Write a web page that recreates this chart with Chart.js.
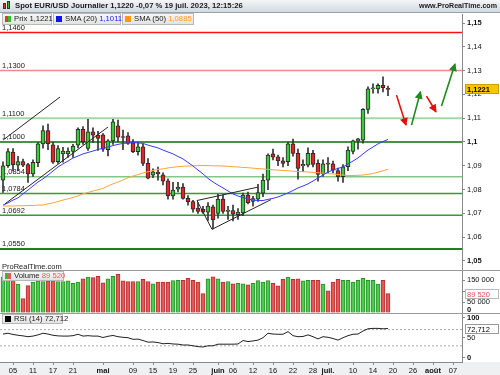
<!DOCTYPE html>
<html>
<head>
<meta charset="utf-8">
<script src="https://cdn.jsdelivr.net/npm/chart.js@4.4.1/dist/chart.umd.min.js"></script>
<style>
  body { margin:0; background:#fff; }
  #wrap { position:relative; width:500px; height:375px; overflow:hidden; font-family:"Liberation Sans", Arial, sans-serif; color:#1a1a1a; }
  canvas { position:absolute; left:0; }
  #xstrip { position:absolute; left:0; top:362px; width:500px; height:13px; background:#eef0f2; }
  #title { position:absolute; left:0; top:0; width:500px; height:13px; box-sizing:border-box; background:linear-gradient(#f4f6f8,#d2d9df); border-bottom:1px solid #9aa3ab; }
  #title .t { position:absolute; left:15px; top:1px; font-weight:bold; font-size:7.7px; line-height:10px; white-space:nowrap; }
  #title .w { position:absolute; right:3px; top:1px; font-weight:bold; font-size:7.1px; line-height:10px; white-space:nowrap; }
  #title b { position:absolute; width:3px; border:1px solid #333; box-sizing:border-box; }
  .lg { position:absolute; height:12px; box-sizing:border-box; border:1px solid #b8b8b8; background:linear-gradient(#f6f6f6,#e3e3e3); font-size:7.7px; line-height:10px; padding-left:11px; white-space:nowrap; }
  .lg i { position:absolute; left:2px; top:2px; width:6px; height:6px; }
  .sep { position:absolute; left:0; width:500px; height:1px; background:#9a9a9a; }
  #wm { position:absolute; left:2px; top:262px; font-size:7.5px; line-height:9px; }
</style>
</head>
<body>
<div id="wrap">
  <div id="xstrip"></div>
  <canvas id="cPrice" width="500" height="256" style="top:14px"></canvas>
  <canvas id="cVol" width="500" height="43" style="top:270px"></canvas>
  <canvas id="cRsi" width="500" height="62" style="top:313px"></canvas>
  <div class="sep" style="top:270px"></div>
  <div class="sep" style="top:313px"></div>
  <div id="title">
    <b style="left:3px;top:3px;height:6px;background:#e33"></b>
    <b style="left:7px;top:1px;height:8px;background:#3b3"></b>
    <span class="t">Spot EUR/USD Journalier 1,1220 -0,07 % 19 juil. 2023, 12:15:26</span>
    <span class="w">www.ProRealTime.com</span>
  </div>
  <div class="lg" style="left:2px;top:13px;width:50px"><i style="background:linear-gradient(90deg,#e33 50%,#3b3 50%)"></i>Prix 1,1221</div>
  <div class="lg" style="left:53px;top:13px;width:68px"><i style="background:#1010ff"></i>SMA (20) <span style="color:#2020ff">1,1011</span></div>
  <div class="lg" style="left:122px;top:13px;width:72px"><i style="background:#ff9a10"></i>SMA (50) <span style="color:#ff9a10">1,0885</span></div>
  <div id="wm">ProRealTime.com</div>
  <div class="lg" style="left:2px;top:271px;width:62px;height:10px;line-height:8px"><i style="top:1px;background:linear-gradient(90deg,#3b3 50%,#e55 50%)"></i>Volume <span style="color:#e06060">89 520</span></div>
  <div class="lg" style="left:2px;top:314px;width:61px;height:10px;line-height:8px"><i style="top:1px;background:#000"></i>RSI (14) 72,712</div>
</div>
<script>
const F = '"Liberation Sans", Arial, sans-serif';
Chart.defaults.font.family = F;

// x positions: one slot per trading day, 3 avr. 2023 = 0
const xMin = -0.6, xMax = 91.8;
const xTickIdx = [2, 6, 10, 14, 20, 26, 30, 34, 38, 43, 46, 50, 54, 58, 62, 65, 70, 74, 78, 82, 86, 90];
const xTickText = ['05', '11', '17', '21', 'mai', '09', '15', '19', '25', 'juin', '06', '12', '16', '22', '28', 'juil.', '10', '14', '20', '26', 'août', '07'];
const monthTicks = ['mai', 'juin', 'juil.', 'août'];

const priceTicks = [1.05, 1.06, 1.07, 1.08, 1.09, 1.10, 1.11, 1.12, 1.13, 1.14, 1.15];
const volTicks = [0, 50000, 100000, 150000];
const volShown = [50000, 150000];
const rsiTicks = [0, 50, 100];

const openP = [1.0840,1.0900,1.0958,1.0903,1.0918,1.0905,1.0866,1.0913,1.0992,1.1048,
  1.0988,1.0917,1.0950,1.0950,1.0960,1.0987,1.1053,1.0973,1.1043,1.1029,
  1.1030,1.0968,1.1005,1.1068,1.1022,1.1026,1.0997,1.0959,1.0980,1.0910,
  1.0861,1.0874,1.0862,1.0837,1.0773,1.0802,1.0810,1.0763,1.0750,1.0722,
  1.0717,1.0705,1.0728,1.0700,1.0760,1.0708,1.0712,1.0695,1.0702,1.0777,
  1.0750,1.0760,1.0785,1.0840,1.0950,1.0938,1.0921,1.0917,1.0992,1.0952,
  1.0900,1.0903,1.0952,1.0910,1.0866,1.0910,1.0908,1.0880,1.0854,1.0896,
  1.0960,1.1004,1.1008,1.1137,1.1223,1.1223,1.1238,1.1224];
const highP = [1.0917,1.0972,1.0972,1.0940,1.0928,1.0910,1.0925,1.0998,1.1068,1.1075,
  1.1000,1.0985,1.0978,1.0976,1.0990,1.1060,1.1065,1.1095,1.1060,1.1045,
  1.1035,1.1010,1.1095,1.1092,1.1050,1.1040,1.1010,1.1000,1.0990,1.0930,
  1.0887,1.0895,1.0870,1.0845,1.0830,1.0830,1.0825,1.0775,1.0755,1.0745,
  1.0730,1.0745,1.0735,1.0780,1.0778,1.0730,1.0735,1.0720,1.0785,1.0790,
  1.0772,1.0822,1.0865,1.0950,1.0970,1.0945,1.0935,1.1000,1.1012,1.0970,
  1.0925,1.0975,1.0965,1.0925,1.0925,1.0935,1.0920,1.0890,1.0905,1.0980,
  1.1008,1.1015,1.1140,1.1232,1.1245,1.1245,1.1274,1.1235];
const lowP = [1.0788,1.0893,1.0878,1.0880,1.0896,1.0830,1.0855,1.0896,1.0974,1.0968,
  1.0910,1.0910,1.0915,1.0935,1.0935,1.0975,1.0990,1.0965,1.0998,1.0965,
  1.0960,1.0941,1.0990,1.1000,1.0968,1.0990,1.0955,1.0945,1.0900,1.0845,
  1.0850,1.0840,1.0820,1.0760,1.0760,1.0790,1.0760,1.0735,1.0705,1.0700,
  1.0700,1.0670,1.0635,1.0680,1.0700,1.0675,1.0668,1.0675,1.0690,1.0740,
  1.0730,1.0750,1.0770,1.0800,1.0925,1.0900,1.0895,1.0900,1.0940,1.0844,
  1.0875,1.0895,1.0895,1.0835,1.0855,1.0870,1.0870,1.0835,1.0830,1.0880,
  1.0950,1.0970,1.0995,1.1120,1.1205,1.1205,1.1210,1.1195];
const closeP = [1.0900,1.0960,1.0905,1.0918,1.0903,1.0866,1.0915,1.0992,1.1048,1.0993,
  1.0915,1.0972,1.0962,1.0962,1.0983,1.1053,1.1001,1.1043,1.1029,1.1015,
  1.0970,1.1005,1.1085,1.1020,1.1019,1.0994,1.0959,1.0980,1.0910,1.0848,
  1.0875,1.0866,1.0835,1.0773,1.0798,1.0810,1.0763,1.0749,1.0718,1.0708,
  1.0705,1.0731,1.0672,1.0760,1.0708,1.0713,1.0697,1.0705,1.0777,1.0745,
  1.0762,1.0787,1.0840,1.0945,1.0936,1.0921,1.0910,1.0992,1.0952,1.0889,
  1.0906,1.0952,1.0906,1.0864,1.0908,1.0907,1.0882,1.0854,1.0896,1.0966,
  1.1005,1.1013,1.1137,1.1223,1.1225,1.1238,1.1228,1.1221];

const sma20 = [1.0735,1.0744,1.0756,1.0765,1.0782,1.0798,1.0815,1.0832,1.0845,1.0861,
  1.0878,1.0895,1.0908,1.0920,1.0933,1.0941,1.0950,1.0956,1.0962,1.0969,
  1.0973,1.0979,1.0985,1.0990,1.0994,1.0996,1.0998,1.0996,1.0994,1.0987,
  1.0981,1.0975,1.0966,1.0958,1.0950,1.0939,1.0929,1.0914,1.0899,1.0882,
  1.0866,1.0847,1.0832,1.0819,1.0807,1.0794,1.0782,1.0773,1.0767,1.0761,
  1.0756,1.0754,1.0754,1.0759,1.0763,1.0769,1.0777,1.0786,1.0796,1.0807,
  1.0815,1.0824,1.0836,1.0849,1.0861,1.0874,1.0882,1.0889,1.0895,1.0908,
  1.0920,1.0933,1.0950,1.0966,1.0979,1.0992,1.1002,1.1011];
const sma50 = [1.0731,1.0731,1.0731,1.0732,1.0732,1.0733,1.0733,1.0735,1.0735,1.0740,
  1.0744,1.0750,1.0756,1.0761,1.0767,1.0773,1.0782,1.0788,1.0794,1.0799,
  1.0805,1.0815,1.0824,1.0832,1.0840,1.0850,1.0857,1.0863,1.0870,1.0875,
  1.0880,1.0885,1.0887,1.0891,1.0894,1.0896,1.0898,1.0899,1.0900,1.0901,
  1.0901,1.0901,1.0900,1.0900,1.0899,1.0898,1.0896,1.0895,1.0893,1.0892,
  1.0890,1.0888,1.0887,1.0885,1.0883,1.0882,1.0880,1.0879,1.0877,1.0876,
  1.0875,1.0874,1.0872,1.0871,1.0869,1.0867,1.0866,1.0863,1.0861,1.0859,
  1.0859,1.0860,1.0861,1.0864,1.0868,1.0873,1.0879,1.0885];

const volume = [165000,160000,160000,133000,66000,126000,142000,148000,145000,148000,
  149000,145000,145000,148000,137000,142000,157000,165000,163000,169000,
  139000,157000,169000,178000,148000,145000,145000,145000,155000,145000,
  134000,142000,142000,142000,149000,151000,151000,160000,151000,142000,
  89000,157000,166000,157000,142000,145000,134000,137000,134000,130000,
  137000,149000,142000,149000,137000,125000,155000,165000,155000,157000,
  148000,151000,151000,151000,133000,102000,142000,155000,151000,151000,
  142000,151000,160000,151000,151000,133000,151000,89520];

const rsi = [59,61,58,56,54.5,52.5,54,57,61,59,
  56,54.5,54,54,55,58.5,54,55,54,54,
  50.5,53.5,55.5,52.5,51,50,46,46.5,43,39,
  39.5,38,35,36,34.5,34,32,32,30,28,
  27,30,30,34,34,34,34,34.5,43,40.5,
  42,44,50,61,59,58.5,58.5,65,55,52.5,
  53,57,52.5,47,52.5,51,48,44,50,55,
  58.5,59,66.5,72,73,73,72,72.712];

// horizontal levels drawn on the price panel
const levelValues = [1.1460, 1.1300, 1.1100, 1.1000, 1.0854, 1.0784, 1.0692, 1.0550];
const levelColors = ['#ff1010', '#f08c8c', '#a6d6a6', '#0b6e0b', '#84c784', '#2f9f2f', '#2f9f2f', '#1a841a'];
const levelWidths = [1.5, 1.5, 2, 1.5, 1.5, 1.5, 1.5, 2];

// hand-drawn trend lines [x index, price]
const trendLines = [
  [[0, 1.1008], [11.4, 1.1189]],
  [[0.4, 1.0740], [21, 1.1063]],
  [[38.8, 1.0754], [50.9, 1.0810]],
  [[38.8, 1.0754], [41.8, 1.0633]],
  [[41.8, 1.0633], [53.6, 1.0758]]
];
// projection arrows
const arrowLines = [
  [[78.7, 1.1197], [80.6, 1.1071]],
  [[81.7, 1.1071], [83.5, 1.1211]],
  [[84.7, 1.1193], [86.6, 1.1127]],
  [[87.7, 1.1151], [90.4, 1.1328]]
];
const arrowColors = ['#e01010', '#1f8a1f', '#e01010', '#1f8a1f'];

const up = closeP.map((c, i) => c >= openP[i]);
const pts = arr => arr.map((v, i) => ({x: i, y: v}));
const span = v => [{x: xMin, y: v}, {x: xMax, y: v}];
const seg = s => s.map(p => ({x: p[0], y: p[1]}));
const fmtPrice = v => String(+v.toFixed(2)).replace('.', ',');
const fmtVol = v => volShown.includes(v) ? String(v).replace(/\B(?=(\d{3})+(?!\d))/g, ' ') : '';

function xScale(show) {
  return {
    type: 'linear', min: xMin, max: xMax, offset: false, display: show,
    afterBuildTicks: s => { s.ticks = xTickIdx.map(v => ({value: v})); },
    afterFit: s => {
      s.paddingLeft = 0; s.paddingRight = 0;
      if (show) s.height = 13;
    },
    ticks: {
      autoSkip: false, maxRotation: 0, padding: 1, color: '#111',
      callback: v => xTickText[xTickIdx.indexOf(v)],
      font: ctx => ({family: F, size: 7.5,
        weight: ctx.tick && monthTicks.includes(xTickText[xTickIdx.indexOf(ctx.tick.value)]) ? 'bold' : 'normal'})
    },
    grid: {display: true, drawOnChartArea: false, tickLength: 3, color: '#888', offset: false},
    border: {display: true, color: '#8a8a8a'}
  };
}

function yScale(min, max, ticks, fmt, isBold) {
  return {
    position: 'right', min: min, max: max,
    afterFit: s => { s.width = 38; s.paddingTop = 0; s.paddingBottom = 0; },
    afterBuildTicks: s => { s.ticks = ticks.map(v => ({value: v})); },
    ticks: {
      padding: 2, color: '#111', autoSkip: false, callback: fmt,
      font: ctx => ({family: F, size: 7.5, weight: ctx.tick && isBold(ctx.tick.value) ? 'bold' : 'normal'})
    },
    grid: {display: true, drawOnChartArea: false, tickLength: 3, color: '#888'},
    border: {display: true, color: '#8a8a8a'}
  };
}

const base = {
  responsive: false, animation: false, devicePixelRatio: 1, events: [],
  layout: {padding: 0}
};

// value tag on the right axis
const tagPlugin = {
  id: 'tag',
  afterDraw(chart, args, o) {
    if (o.value === undefined || o.value === null) return;
    const c = chart.ctx;
    const y = Math.round(chart.scales.y.getPixelForValue(o.value));
    const x0 = chart.chartArea.right + 3, w = chart.width - x0 - 1, h = 10;
    c.save();
    c.fillStyle = o.bg;
    c.fillRect(x0, y - h / 2, w, h);
    c.strokeStyle = o.line;
    c.lineWidth = 1;
    c.strokeRect(x0 + 0.5, y - h / 2 + 0.5, w - 1, h - 1);
    c.fillStyle = o.fg;
    c.font = (o.bold ? 'bold ' : '') + '7.5px ' + F;
    c.textBaseline = 'middle';
    c.fillText(o.text, x0 + 2, y + 0.5);
    c.restore();
  }
};

const levelLabelPlugin = {
  id: 'levelLabels',
  beforeDatasetsDraw(chart) {
    const c = chart.ctx, y = chart.scales.y;
    c.save();
    c.font = '7.5px ' + F;
    c.fillStyle = '#1a1a1a';
    c.textBaseline = 'bottom';
    levelValues.forEach(v => c.fillText(v.toFixed(4).replace('.', ','), chart.chartArea.left + 2, y.getPixelForValue(v) - 1));
    c.restore();
  }
};

const arrowPlugin = {
  id: 'arrowHeads',
  afterDatasetsDraw(chart) {
    chart.data.datasets.forEach((ds, k) => {
      if (!ds.arrow) return;
      const p = chart.getDatasetMeta(k).data;
      const a = p[0], b = p[1];
      const ang = Math.atan2(b.y - a.y, b.x - a.x);
      const c = chart.ctx;
      c.save();
      c.translate(b.x, b.y);
      c.rotate(ang);
      c.beginPath();
      c.moveTo(1, 0);
      c.lineTo(-7, -4);
      c.lineTo(-7, 4);
      c.closePath();
      c.fillStyle = ds.borderColor;
      c.fill();
      c.restore();
    });
  }
};

const zeroPlugin = {
  id: 'zeroLabel',
  afterDraw(chart) {
    const c = chart.ctx;
    c.save();
    c.font = 'bold 7.5px ' + F;
    c.fillStyle = '#111';
    c.textBaseline = 'bottom';
    c.fillText('0', chart.chartArea.right + 5, chart.scales.y.getPixelForValue(0) + 1);
    c.restore();
  }
};

// ---- price panel
const priceSets = [];
levelValues.forEach((v, k) => priceSets.push({
  type: 'line', data: span(v), borderColor: levelColors[k], borderWidth: levelWidths[k], pointRadius: 0, order: 10
}));
priceSets.push({
  type: 'bar', data: highP.map((h, i) => ({x: i, y: [lowP[i], h]})),
  backgroundColor: '#333', barThickness: 1, grouped: false, order: 6
});
priceSets.push({
  type: 'bar', data: openP.map((o, i) => ({x: i, y: [o, closeP[i]]})),
  backgroundColor: up.map(u => u ? '#3cc83c' : '#e42424'), borderColor: '#2a2a2a',
  borderWidth: 1, borderSkipped: false, barThickness: 4, minBarLength: 1, grouped: false, order: 5
});
priceSets.push({type: 'line', data: pts(sma50), borderColor: '#ffa53a', borderWidth: 1, pointRadius: 0, order: 4});
priceSets.push({type: 'line', data: pts(sma20), borderColor: '#3a3aff', borderWidth: 1, pointRadius: 0, order: 3});
trendLines.forEach(t => priceSets.push({type: 'line', data: seg(t), borderColor: '#262626', borderWidth: 1, pointRadius: 0, order: 2}));
arrowLines.forEach((t, k) => priceSets.push({type: 'line', data: seg(t), borderColor: arrowColors[k], borderWidth: 1.6, pointRadius: 0, order: 1, arrow: true}));

new Chart(document.getElementById('cPrice'), {
  type: 'bar',
  data: {datasets: priceSets},
  options: Object.assign({}, base, {
    scales: {
      x: xScale(false),
      y: yScale(1.0462, 1.1538, priceTicks, fmtPrice, v => Math.round(v * 100) % 5 === 0)
    },
    plugins: {legend: {display: false}, tooltip: {enabled: false},
      tag: {value: 1.1221, text: '1,1221', bg: '#f7c600', fg: '#000', line: '#c9a000', bold: true}}
  }),
  plugins: [levelLabelPlugin, arrowPlugin, tagPlugin]
});

// ---- volume panel
new Chart(document.getElementById('cVol'), {
  type: 'bar',
  data: {datasets: [{
    data: pts(volume),
    backgroundColor: up.map(u => u ? '#4ccc4c' : '#e85656'),
    borderColor: up.map(u => u ? '#2c8f2c' : '#b03434'),
    borderWidth: 1, barThickness: 4, grouped: false
  }]},
  options: Object.assign({}, base, {
    scales: {x: xScale(false), y: yScale(0, 198000, volTicks, fmtVol, v => false)},
    plugins: {legend: {display: false}, tooltip: {enabled: false},
      tag: {value: 89520, text: '89 520', bg: '#fff', fg: '#e05050', line: '#bbb', bold: false}}
  }),
  plugins: [tagPlugin, zeroPlugin]
});

// ---- RSI panel with the date axis
new Chart(document.getElementById('cRsi'), {
  type: 'line',
  data: {datasets: [
    {data: pts(rsi), borderColor: '#222', borderWidth: 1, pointRadius: 0},
    {data: span(70), borderColor: '#aaa', borderWidth: 1, borderDash: [2, 2], pointRadius: 0},
    {data: span(30), borderColor: '#aaa', borderWidth: 1, borderDash: [2, 2], pointRadius: 0}
  ]},
  options: Object.assign({}, base, {
    scales: {x: xScale(true), y: yScale(-10, 111, rsiTicks, v => String(v), v => v !== 50)},
    plugins: {legend: {display: false}, tooltip: {enabled: false},
      tag: {value: 72.712, text: '72,712', bg: '#fff', fg: '#000', line: '#999', bold: false}}
  }),
  plugins: [tagPlugin]
});
</script>
</body>
</html>
